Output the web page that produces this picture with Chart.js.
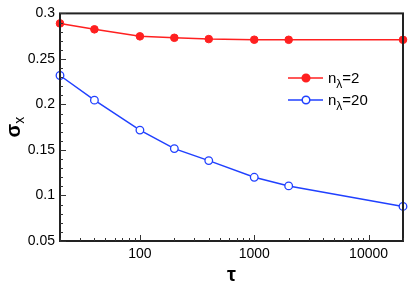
<!DOCTYPE html>
<html><head><meta charset="utf-8">
<script src="https://cdn.jsdelivr.net/npm/chart.js@4/dist/chart.umd.min.js"></script>
<style>html,body{margin:0;padding:0;background:#fff;}#wrap{width:409px;height:289px;}</style>
</head><body><div id="wrap"><canvas id="c" width="409" height="289"></canvas></div>
<script>
const tau = [20, 40, 100, 200, 400, 1000, 2000, 20000];
const sigmaN2 = [0.289, 0.2825, 0.2748, 0.2732, 0.2718, 0.2711, 0.2710, 0.2710];
const sigmaN20 = [0.2318, 0.2047, 0.1718, 0.1515, 0.1383, 0.1200, 0.1105, 0.0880];
const xTickLabels = [100, 1000, 10000];
const yTickValues = [0.05, 0.1, 0.15, 0.2, 0.25, 0.3];
const seriesNames = [["n", "λ", "=2"], ["n", "λ", "=20"]];

const FONT = '"Liberation Sans", Arial, Helvetica, sans-serif';
const RED = 'rgb(255,32,32)', BLUE = 'rgb(32,64,255)';

const decor = {
  id: 'decor',
  afterDraw(chart) {
    const ctx = chart.ctx, a = chart.chartArea;
    const xs = chart.scales.x, ys = chart.scales.y;
    ctx.save();
    ctx.strokeStyle = '#222'; ctx.lineWidth = 2;
    ctx.strokeRect(a.left, a.top, a.right - a.left, a.bottom - a.top);
    ctx.lineWidth = 1; ctx.strokeStyle = '#333';
    // x ticks inward
    for (let d = 10; d <= 10000; d *= 10) {
      for (let m = 1; m <= 9; m++) {
        const v = d * m;
        if (v < xs.min || v > xs.max) continue;
        const px = Math.round(xs.getPixelForValue(v)) + 0.5;
        const len = m === 1 ? 6 : 3;
        ctx.beginPath(); ctx.moveTo(px, a.bottom); ctx.lineTo(px, a.bottom - len); ctx.stroke();
      }
    }
    // y ticks inward
    for (let i = 5; i <= 30; i++) {
      const v = i / 100;
      const py = Math.round(ys.getPixelForValue(v)) + 0.5;
      const len = (i % 5 === 0) ? 6 : 3;
      ctx.beginPath(); ctx.moveTo(a.left, py); ctx.lineTo(a.left + len, py); ctx.stroke();
    }
    // axis titles
    ctx.fillStyle = '#000';
    ctx.font = 'bold 20px ' + FONT;
    ctx.textAlign = 'center'; ctx.textBaseline = 'alphabetic';
    ctx.fillText('τ', (a.left + a.right) / 2, 281);
    ctx.save();
    ctx.translate(20, (a.top + a.bottom) / 2);
    ctx.rotate(-Math.PI / 2);
    ctx.textAlign = 'left';
    ctx.font = 'bold 20px ' + FONT;
    const sw = ctx.measureText('σ').width;
    ctx.font = '14px ' + FONT;
    const xw = ctx.measureText('x').width;
    const start = -(sw + xw) / 2;
    ctx.font = 'bold 20px ' + FONT;
    ctx.fillText('σ', start, 0);
    ctx.font = '14px ' + FONT;
    ctx.fillText('x', start + sw, 4);
    ctx.restore();
    // legend
    const items = [[RED, true, 78], [BLUE, false, 100]];
    items.forEach((it, i) => {
      const [col, filled, y] = it;
      ctx.strokeStyle = col; ctx.lineWidth = 1.5;
      ctx.beginPath(); ctx.moveTo(288, y); ctx.lineTo(323, y); ctx.stroke();
      ctx.beginPath(); ctx.arc(306, y, 3.8, 0, Math.PI * 2);
      ctx.fillStyle = filled ? col : '#fff'; ctx.fill(); ctx.stroke();
      ctx.fillStyle = '#000'; ctx.textAlign = 'left';
      const [n, l, rest] = seriesNames[i];
      ctx.font = '15px ' + FONT;
      ctx.fillText(n, 328, y + 5);
      let x = 328 + ctx.measureText(n).width;
      ctx.font = '12px ' + FONT;
      ctx.fillText(l, x, y + 10);
      x += ctx.measureText(l).width;
      ctx.font = '15px ' + FONT;
      ctx.fillText(rest, x, y + 5);
    });
    ctx.restore();
  }
};

new Chart(document.getElementById('c'), {
  type: 'line',
  data: {
    datasets: [
      { label: 'n=2', data: tau.map((t, i) => ({ x: t, y: sigmaN2[i] })), borderColor: RED, backgroundColor: RED,
        pointBackgroundColor: RED, pointBorderColor: RED, pointRadius: 3.8, borderWidth: 1.5, pointBorderWidth: 1, tension: 0 },
      { label: 'n=20', data: tau.map((t, i) => ({ x: t, y: sigmaN20[i] })), borderColor: BLUE, backgroundColor: '#fff',
        pointBackgroundColor: '#fff', pointBorderColor: BLUE, pointRadius: 3.8, borderWidth: 1.5, pointBorderWidth: 1.3, tension: 0 }
    ]
  },
  options: {
    responsive: false, animation: false, clip: false,
    layout: { padding: { left: 0, top: 5, right: 6, bottom: 0 } },
    plugins: { legend: { display: false }, tooltip: { enabled: false } },
    scales: {
      x: {
        type: 'logarithmic', min: 20, max: 20000,
        afterBuildTicks(s) { s.ticks = xTickLabels.map(v => ({ value: v })); },
        afterFit(s) { s.height = 48; },
        ticks: { color: '#000', font: { size: 14, family: FONT }, padding: 5, maxRotation: 0, autoSkip: false,
          callback: v => String(v) },
        grid: { display: false, drawTicks: false },
        border: { display: false }
      },
      y: {
        min: 0.05, max: 0.3,
        afterBuildTicks(s) { s.ticks = yTickValues.map(v => ({ value: v })); },
        afterFit(s) { s.width = 60; },
        ticks: { color: '#000', font: { size: 14, family: FONT }, padding: 5, autoSkip: false,
          callback: v => String(+v.toFixed(2)) },
        grid: { display: false, drawTicks: false },
        border: { display: false }
      }
    }
  },
  plugins: [decor]
});
</script></body></html>
